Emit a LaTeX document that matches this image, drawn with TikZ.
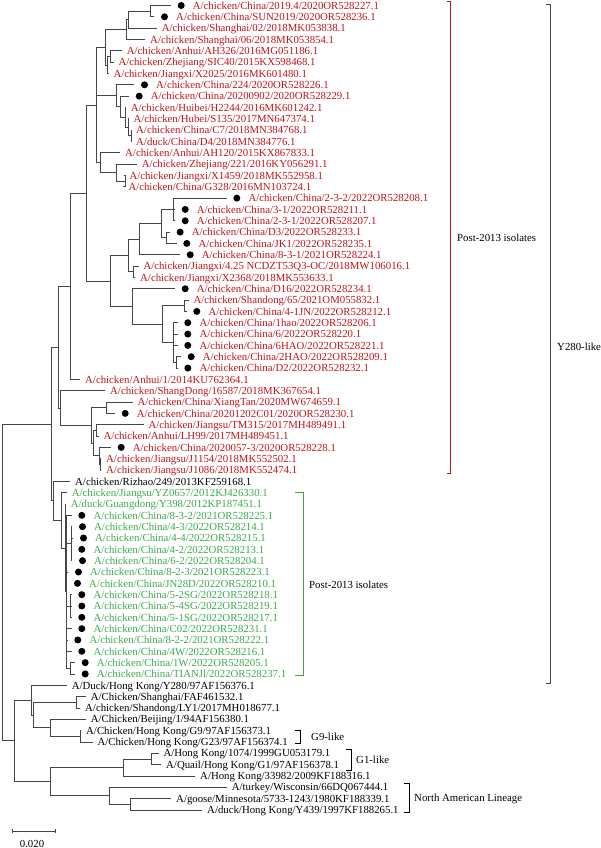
\documentclass[tikz,border=0pt]{standalone}
\usepackage{fontspec}
\setmainfont{Liberation Serif}
\usetikzlibrary{calc}
\definecolor{tred}{RGB}{192,20,25}
\definecolor{tgreen}{RGB}{60,170,75}
\definecolor{tline}{RGB}{70,70,70}
\tikzset{
  br/.style={draw=tline,line width=0.8pt,line cap=rect},
  lbl/.style={anchor=base west,inner sep=0pt,font=\fontsize{10.8}{12}\selectfont},
  dotm/.style={circle,fill=black,inner sep=0pt,minimum size=7pt},
  brk/.style={line width=0.8pt},
}
\newcommand\leaf[5]{%
  \ifnum#3=1
    \coordinate (n#1) at ({#2-22},{5.5+(#1-1)*11.33});
    \node[dotm] (d#1) at ({#2-11.5},{5.5+(#1-1)*11.33}) {};
  \else
    \coordinate (n#1) at ({#2-5},{5.5+(#1-1)*11.33});
  \fi
  \node[lbl,text=#4] (t#1) at (#2,{5.5+(#1-1)*11.33+3.7}) {#5};
}
\newcommand\clade[3]{%
  \foreach \cname [count=\cidx] in {#3}{\ifnum\cidx=1 \xdef\cfirst{\cname}\fi\xdef\clast{\cname}}%
  \path let \p1=(\cfirst), \p2=(\clast) in coordinate (#1) at ({#2pt},{0.5*\y1+0.5*\y2});
  \draw[br] (#1 |- \cfirst) -- (#1 |- \clast);
  \foreach \cname in {#3}{\draw[br] (#1 |- \cname) -- (\cname);}
}
\begin{document}
\begin{tikzpicture}[x=1pt,y=-1pt]
\useasboundingbox (0,0) rectangle (600,848);
% leaves
\leaf{1}{192.7}{1}{tred}{A/chicken/China/2019.4/2020OR528227.1}
\leaf{2}{176}{1}{tred}{A/chicken/China/SUN2019/2020OR528236.1}
\leaf{3}{161.7}{0}{tred}{A/chicken/Shanghai/02/2018MK053838.1}
\leaf{4}{150}{0}{tred}{A/chicken/Shanghai/06/2018MK053854.1}
\leaf{5}{126.7}{0}{tred}{A/chicken/Anhui/AH326/2016MG051186.1}
\leaf{6}{118.3}{0}{tred}{A/chicken/Zhejiang/SIC40/2015KX598468.1}
\leaf{7}{113.3}{0}{tred}{A/chicken/Jiangxi/X2025/2016MK601480.1}
\leaf{8}{156}{1}{tred}{A/chicken/China/224/2020OR528226.1}
\leaf{9}{150.7}{1}{tred}{A/chicken/China/20200902/2020OR528229.1}
\leaf{10}{130.7}{0}{tred}{A/chicken/Huibei/H2244/2016MK601242.1}
\leaf{11}{133.3}{0}{tred}{A/chicken/Hubei/S135/2017MN647374.1}
\leaf{12}{136}{0}{tred}{A/chicken/China/C7/2018MN384768.1}
\leaf{13}{136}{0}{tred}{A/duck/China/D4/2018MN384776.1}
\leaf{14}{125}{0}{tred}{A/chicken/Anhui/AH120/2015KX867833.1}
\leaf{15}{141.7}{0}{tred}{A/chicken/Zhejiang/221/2016KY056291.1}
\leaf{16}{129.3}{0}{tred}{A/chicken/Jiangxi/X1459/2018MK552958.1}
\leaf{17}{128.3}{0}{tred}{A/chicken/China/G328/2016MN103724.1}
\leaf{18}{248.3}{1}{tred}{A/chicken/China/2-3-2/2022OR528208.1}
\leaf{19}{196.7}{1}{tred}{A/chicken/China/3-1/2022OR528211.1}
\leaf{20}{196.7}{1}{tred}{A/chicken/China/2-3-1/2022OR528207.1}
\leaf{21}{191.7}{1}{tred}{A/chicken/China/D3/2022OR528233.1}
\leaf{22}{198.3}{1}{tred}{A/chicken/China/JK1/2022OR528235.1}
\leaf{23}{201.7}{1}{tred}{A/chicken/China/8-3-1/2021OR528224.1}
\leaf{24}{143.3}{0}{tred}{A/chicken/Jiangxi/4.25 NCDZT53Q3-OC/2018MW106016.1}
\leaf{25}{140}{0}{tred}{A/chicken/Jiangxi/X2368/2018MK553633.1}
\leaf{26}{196.7}{1}{tred}{A/chicken/China/D16/2022OR528234.1}
\leaf{27}{193.3}{0}{tred}{A/chicken/Shandong/65/2021OM055832.1}
\leaf{28}{208.3}{1}{tred}{A/chicken/China/4-1JN/2022OR528212.1}
\leaf{29}{199.3}{1}{tred}{A/chicken/China/1hao/2022OR528206.1}
\leaf{30}{199.3}{1}{tred}{A/chicken/China/6/2022OR528220.1}
\leaf{31}{199.3}{1}{tred}{A/chicken/China/6HAO/2022OR528221.1}
\leaf{32}{202.7}{1}{tred}{A/chicken/China/2HAO/2022OR528209.1}
\leaf{33}{199.3}{1}{tred}{A/chicken/China/D2/2022OR528232.1}
\leaf{34}{85}{0}{tred}{A/chicken/Anhui/1/2014KU762364.1}
\leaf{35}{110}{0}{tred}{A/chicken/ShangDong/16587/2018MK367654.1}
\leaf{36}{137.3}{0}{tred}{A/chicken/China/XiangTan/2020MW674659.1}
\leaf{37}{136.7}{1}{tred}{A/chicken/China/20201202C01/2020OR528230.1}
\leaf{38}{148.3}{0}{tred}{A/chicken/Jiangsu/TM315/2017MH489491.1}
\leaf{39}{103.3}{0}{tred}{A/chicken/Anhui/LH99/2017MH489451.1}
\leaf{40}{132.7}{1}{tred}{A/chicken/China/2020057-3/2020OR528228.1}
\leaf{41}{106}{0}{tred}{A/chicken/Jiangsu/J1154/2018MK552502.1}
\leaf{42}{106}{0}{tred}{A/chicken/Jiangsu/J1086/2018MK552474.1}
\leaf{43}{75}{0}{black}{A/chicken/Rizhao/249/2013KF259168.1}
\leaf{44}{71.7}{0}{tgreen}{A/chicken/Jiangsu/YZ0657/2012KJ426330.1}
\leaf{45}{70.7}{0}{tgreen}{A/duck/Guangdong/Y398/2012KP187451.1}
\leaf{46}{93.3}{1}{tgreen}{A/chicken/China/8-3-2/2021OR528225.1}
\leaf{47}{94}{1}{tgreen}{A/chicken/China/4-3/2022OR528214.1}
\leaf{48}{95}{1}{tgreen}{A/chicken/China/4-4/2022OR528215.1}
\leaf{49}{93.3}{1}{tgreen}{A/chicken/China/4-2/2022OR528213.1}
\leaf{50}{94}{1}{tgreen}{A/chicken/China/6-2/2022OR528204.1}
\leaf{51}{90}{1}{tgreen}{A/chicken/China/8-2-3/2021OR528223.1}
\leaf{52}{89}{1}{tgreen}{A/chicken/China/JN28D/2022OR528210.1}
\leaf{53}{93.3}{1}{tgreen}{A/chicken/China/5-2SG/2022OR528218.1}
\leaf{54}{93.3}{1}{tgreen}{A/chicken/China/5-4SG/2022OR528219.1}
\leaf{55}{93.3}{1}{tgreen}{A/chicken/China/5-1SG/2022OR528217.1}
\leaf{56}{93.3}{1}{tgreen}{A/chicken/China/C02/2022OR528231.1}
\leaf{57}{89.3}{1}{tgreen}{A/chicken/China/8-2-2/2021OR528222.1}
\leaf{58}{93.3}{1}{tgreen}{A/chicken/China/4W/2022OR528216.1}
\leaf{59}{96.7}{1}{tgreen}{A/chicken/China/1W/2022OR528205.1}
\leaf{60}{96.7}{1}{tgreen}{A/chicken/China/TIANJl/2022OR528237.1}
\leaf{61}{71.7}{0}{black}{A/Duck/Hong Kong/Y280/97AF156376.1}
\leaf{62}{90.7}{0}{black}{A/Chicken/Shanghai/FAF461532.1}
\leaf{63}{85}{0}{black}{A/chicken/Shandong/LY1/2017MH018677.1}
\leaf{64}{90.7}{0}{black}{A/Chicken/Beijing/1/94AF156380.1}
\leaf{65}{86}{0}{black}{A/Chicken/Hong Kong/G9/97AF156373.1}
\leaf{66}{97.3}{0}{black}{A/Chicken/Hong Kong/G23/97AF156374.1}
\leaf{67}{163.3}{0}{black}{A/Hong Kong/1074/1999GU053179.1}
\leaf{68}{166}{0}{black}{A/Quail/Hong Kong/G1/97AF156378.1}
\leaf{69}{200}{0}{black}{A/Hong Kong/33982/2009KF188316.1}
\leaf{70}{231.7}{0}{black}{A/turkey/Wisconsin/66DQ067444.1}
\leaf{71}{176}{0}{black}{A/goose/Minnesota/5733-1243/1980KF188339.1}
\leaf{72}{207}{0}{black}{A/duck/Hong Kong/Y439/1997KF188265.1}
% clades (upper red)
\clade{ca}{150.7}{n1,n2}
\clade{cb}{128.3}{ca,n3}
\clade{cc}{126.7}{cb,n4}
\clade{ce}{110}{n5,n6}
\clade{cd}{107}{ce,n7}
\clade{cg}{105.7}{cc,cd}
\clade{cl}{131.7}{n12,n13}
\clade{ck}{128}{n11,cl}
\clade{cj}{125}{n10,ck}
\clade{ci}{120}{n9,cj}
\clade{ch}{116.7}{n8,ci}
\clade{cm}{125}{n16,n17}
\clade{cn}{116.7}{n15,cm}
\clade{cqa}{100}{n14,cn}
\clade{cT}{96.7}{cg,ch,cqa}
\clade{cq}{173.3}{n18,n19,n20}
\clade{ct}{166.7}{n21,n22}
\clade{cs}{161.7}{cq,ct}
\clade{cu}{139.3}{cs,n23}
\clade{cv}{133}{n24,n25}
\clade{cza}{128.3}{cu,cv}
\clade{cyc}{184}{n27,n28}
\clade{cyf}{176}{n32,n33}
\clade{cyd}{173}{n29,n30,n31,cyf}
\clade{cyb}{162.5}{cyc,cyd}
\clade{cya}{132.7}{n26,cyb}
\clade{cZ}{110}{cza,cya}
\clade{cBIG}{86}{cT,cZ}
\clade{cAA}{70}{cBIG,n34}
\clade{cYa}{106}{n36,n37}
\clade{cYc}{96.7}{n38,n39}
\clade{cYe}{100.5}{n41,n42}
\clade{cYd}{99}{n40,cYe}
\clade{cYb}{93}{cYc,cYd}
\clade{cY}{91.7}{cYa,cYb}
\clade{cX}{60}{n35,cY}
\clade{cV}{58.3}{cAA,cX}
% green
\clade{cGE}{71.7}{n47,n48,n49,n50}
\clade{cGF}{70}{n53,n54,n55}
\clade{cGH}{70.7}{n59,n60}
\clade{cGD}{66.7}{n46,cGE,n51,n52,cGF,n56,n57,n58,cGH}
\clade{cGCb}{65}{n45,cGD}
\clade{cGC}{61.7}{n44,cGCb}
\clade{cW}{53.3}{n43,cGC}
\clade{cU}{51.7}{cV,cW}
% lower black
\clade{cS}{76}{n62,n63}
\clade{cG}{80}{n65,n66}
\clade{cB}{50}{n64,cG}
\clade{cO}{33}{cS,cB}
\clade{cP}{31.7}{n61,cO}
\clade{cI}{151.7}{n67,n68}
\clade{cJ}{123}{cI,n69}
\clade{cN3}{130}{n71,n72}
\clade{cN2}{109}{n70,cN3}
\clade{cN1}{50}{cJ,cN2}
\clade{cL}{14}{cP,cN1}
\clade{root}{2}{cU,cL}
% brackets
\draw[brk,tred] (446.5,1) -- (450.5,1) -- (450.5,473.5) -- (446.5,473.5);
\node[lbl] (lpost1) at (457,241.7) {Post-2013 isolates};
\draw[brk,tline] (546,4) -- (550.5,4) -- (550.5,683) -- (546,683);
\node[lbl] (ly280) at (557,350.7) {Y280-like};
\draw[brk,tgreen] (295,492.5) -- (303,492.5) -- (303,675.5) -- (295,675.5);
\node[lbl] (lpost2) at (309,588.7) {Post-2013 isolates};
\draw[brk,black] (295,730) -- (300,730) -- (300,743) -- (295,743);
\node[lbl] (lg9) at (311,740.7) {G9-like};
\draw[brk,black] (346,749.5) -- (351.5,749.5) -- (351.5,770) -- (346,770);
\node[lbl] (lg1) at (356,763.7) {G1-like};
\draw[brk,black] (404,783) -- (409,783) -- (409,812) -- (404,812);
\node[lbl] (lna) at (414,801.7) {North American Lineage};
% scale bar
\coordinate (sb1) at (12.3,831);
\coordinate (sb2) at (55.6,831);
\draw[br] (sb1) -- (sb2);
\draw[br] ($(sb1)+(0,-2)$) -- ($(sb1)+(0,2)$);
\draw[br] ($(sb2)+(0,-2)$) -- ($(sb2)+(0,2)$);
\node[lbl,anchor=base] (sbt) at (32,847) {0.020};
\end{tikzpicture}
\end{document}
